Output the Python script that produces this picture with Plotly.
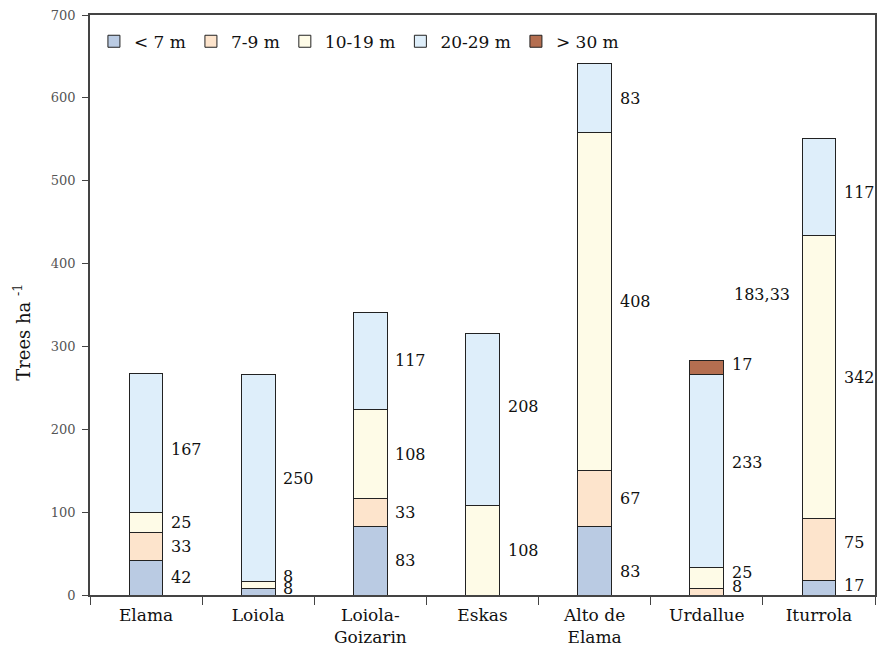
import plotly.graph_objects as go

categories = ["Elama", "Loiola", "Loiola-<br>Goizarin", "Eskas", "Alto de<br>Elama", "Urdallue", "Iturrola"]
series_names = ["< 7 m", "7-9 m", "10-19 m", "20-29 m", "> 30 m"]
lt7 = [42, 8, 83, None, 83, None, 17]
m7_9 = [33, None, 33, None, 67, 8, 75]
m10_19 = [25, 8, 108, 108, 408, 25, 342]
m20_29 = [167, 250, 117, 208, 83, 233, 117]
gt30 = [None, None, None, None, None, 17, None]
stray_label_text = "183,33"
stray_label_value = 363
y_ticks = [0, 100, 200, 300, 400, 500, 600, 700]

colors = ["#BACBE3", "#FDE4CC", "#FEFBE7", "#DEEEFA", "#B46E50"]
series = [lt7, m7_9, m10_19, m20_29, gt30]

# pixel nudges for value labels (category index, series index) -> yshift
nudges = {(0, 3): -7, (1, 0): 3, (1, 2): 9, (3, 3): 13, (4, 0): -11,
          (5, 1): 5, (5, 2): 6, (5, 3): 9, (5, 4): 3, (6, 0): 2, (6, 1): 7, (6, 3): -6}

SERIF = "DejaVu Serif"
fig = go.Figure()
for name, vals, col in zip(series_names, series, colors):
    fig.add_trace(go.Bar(
        x=categories, y=vals, name=name,
        marker=dict(color=col, line=dict(color="#222", width=1)),
        width=0.3,
    ))

annotations = []
for ci, cat in enumerate(categories):
    base = 0
    for si, vals in enumerate(series):
        v = vals[ci]
        if v is None:
            continue
        annotations.append(dict(
            x=cat, y=base + v / 2, text=str(v), showarrow=False, xanchor="left",
            xshift=23, yshift=nudges.get((ci, si), 0),
            font=dict(family=SERIF, size=16, color="#111")))
        base += v
annotations.append(dict(x=categories[5], y=stray_label_value, text=stray_label_text, showarrow=False,
                        xanchor="left", xshift=25, font=dict(family=SERIF, size=16, color="#111")))
annotations.append(dict(xref="paper", yref="paper", x=-0.0866, y=0.452, xanchor="center", yanchor="middle",
                        text="Trees ha <sup>-1</sup>", textangle=-90, showarrow=False,
                        font=dict(family=SERIF, size=18, color="#111")))

fig.update_layout(
    width=877, height=649, barmode="stack", bargap=0.7,
    margin=dict(l=90, r=2, t=15, b=54, autoexpand=False),
    plot_bgcolor="white", paper_bgcolor="white",
    font=dict(family=SERIF, color="#111"),
    annotations=annotations,
    legend=dict(orientation="h", x=0.005, y=0.985, xanchor="left", yanchor="top",
                font=dict(family=SERIF, size=17, color="#111"), bgcolor="rgba(0,0,0,0)",
                traceorder="normal", itemwidth=30),
    showlegend=True,
)
fig.update_xaxes(showline=True, linecolor="#444", linewidth=1.5, mirror=True, automargin=False,
                 ticks="outside", ticklen=8, tickcolor="#444", tickson="boundaries",
                 ticklabelstandoff=4,
                 tickfont=dict(family=SERIF, size=17, color="#111"), range=[-0.5, 6.5])
fig.update_yaxes(range=[0, 700], tickvals=y_ticks, showline=True, linecolor="#444", linewidth=1.5,
                 mirror=True, automargin=False, ticklabeloverflow="allow", ticklabelstandoff=4,
                 ticks="outside", ticklen=6, tickcolor="#444", showgrid=False, zeroline=False,
                 tickfont=dict(family=SERIF, size=13, color="#555"))

fig.write_html("out.html", config={"displayModeBar": False},
               post_script="document.body.style.margin='0';document.body.style.overflow='hidden';")
